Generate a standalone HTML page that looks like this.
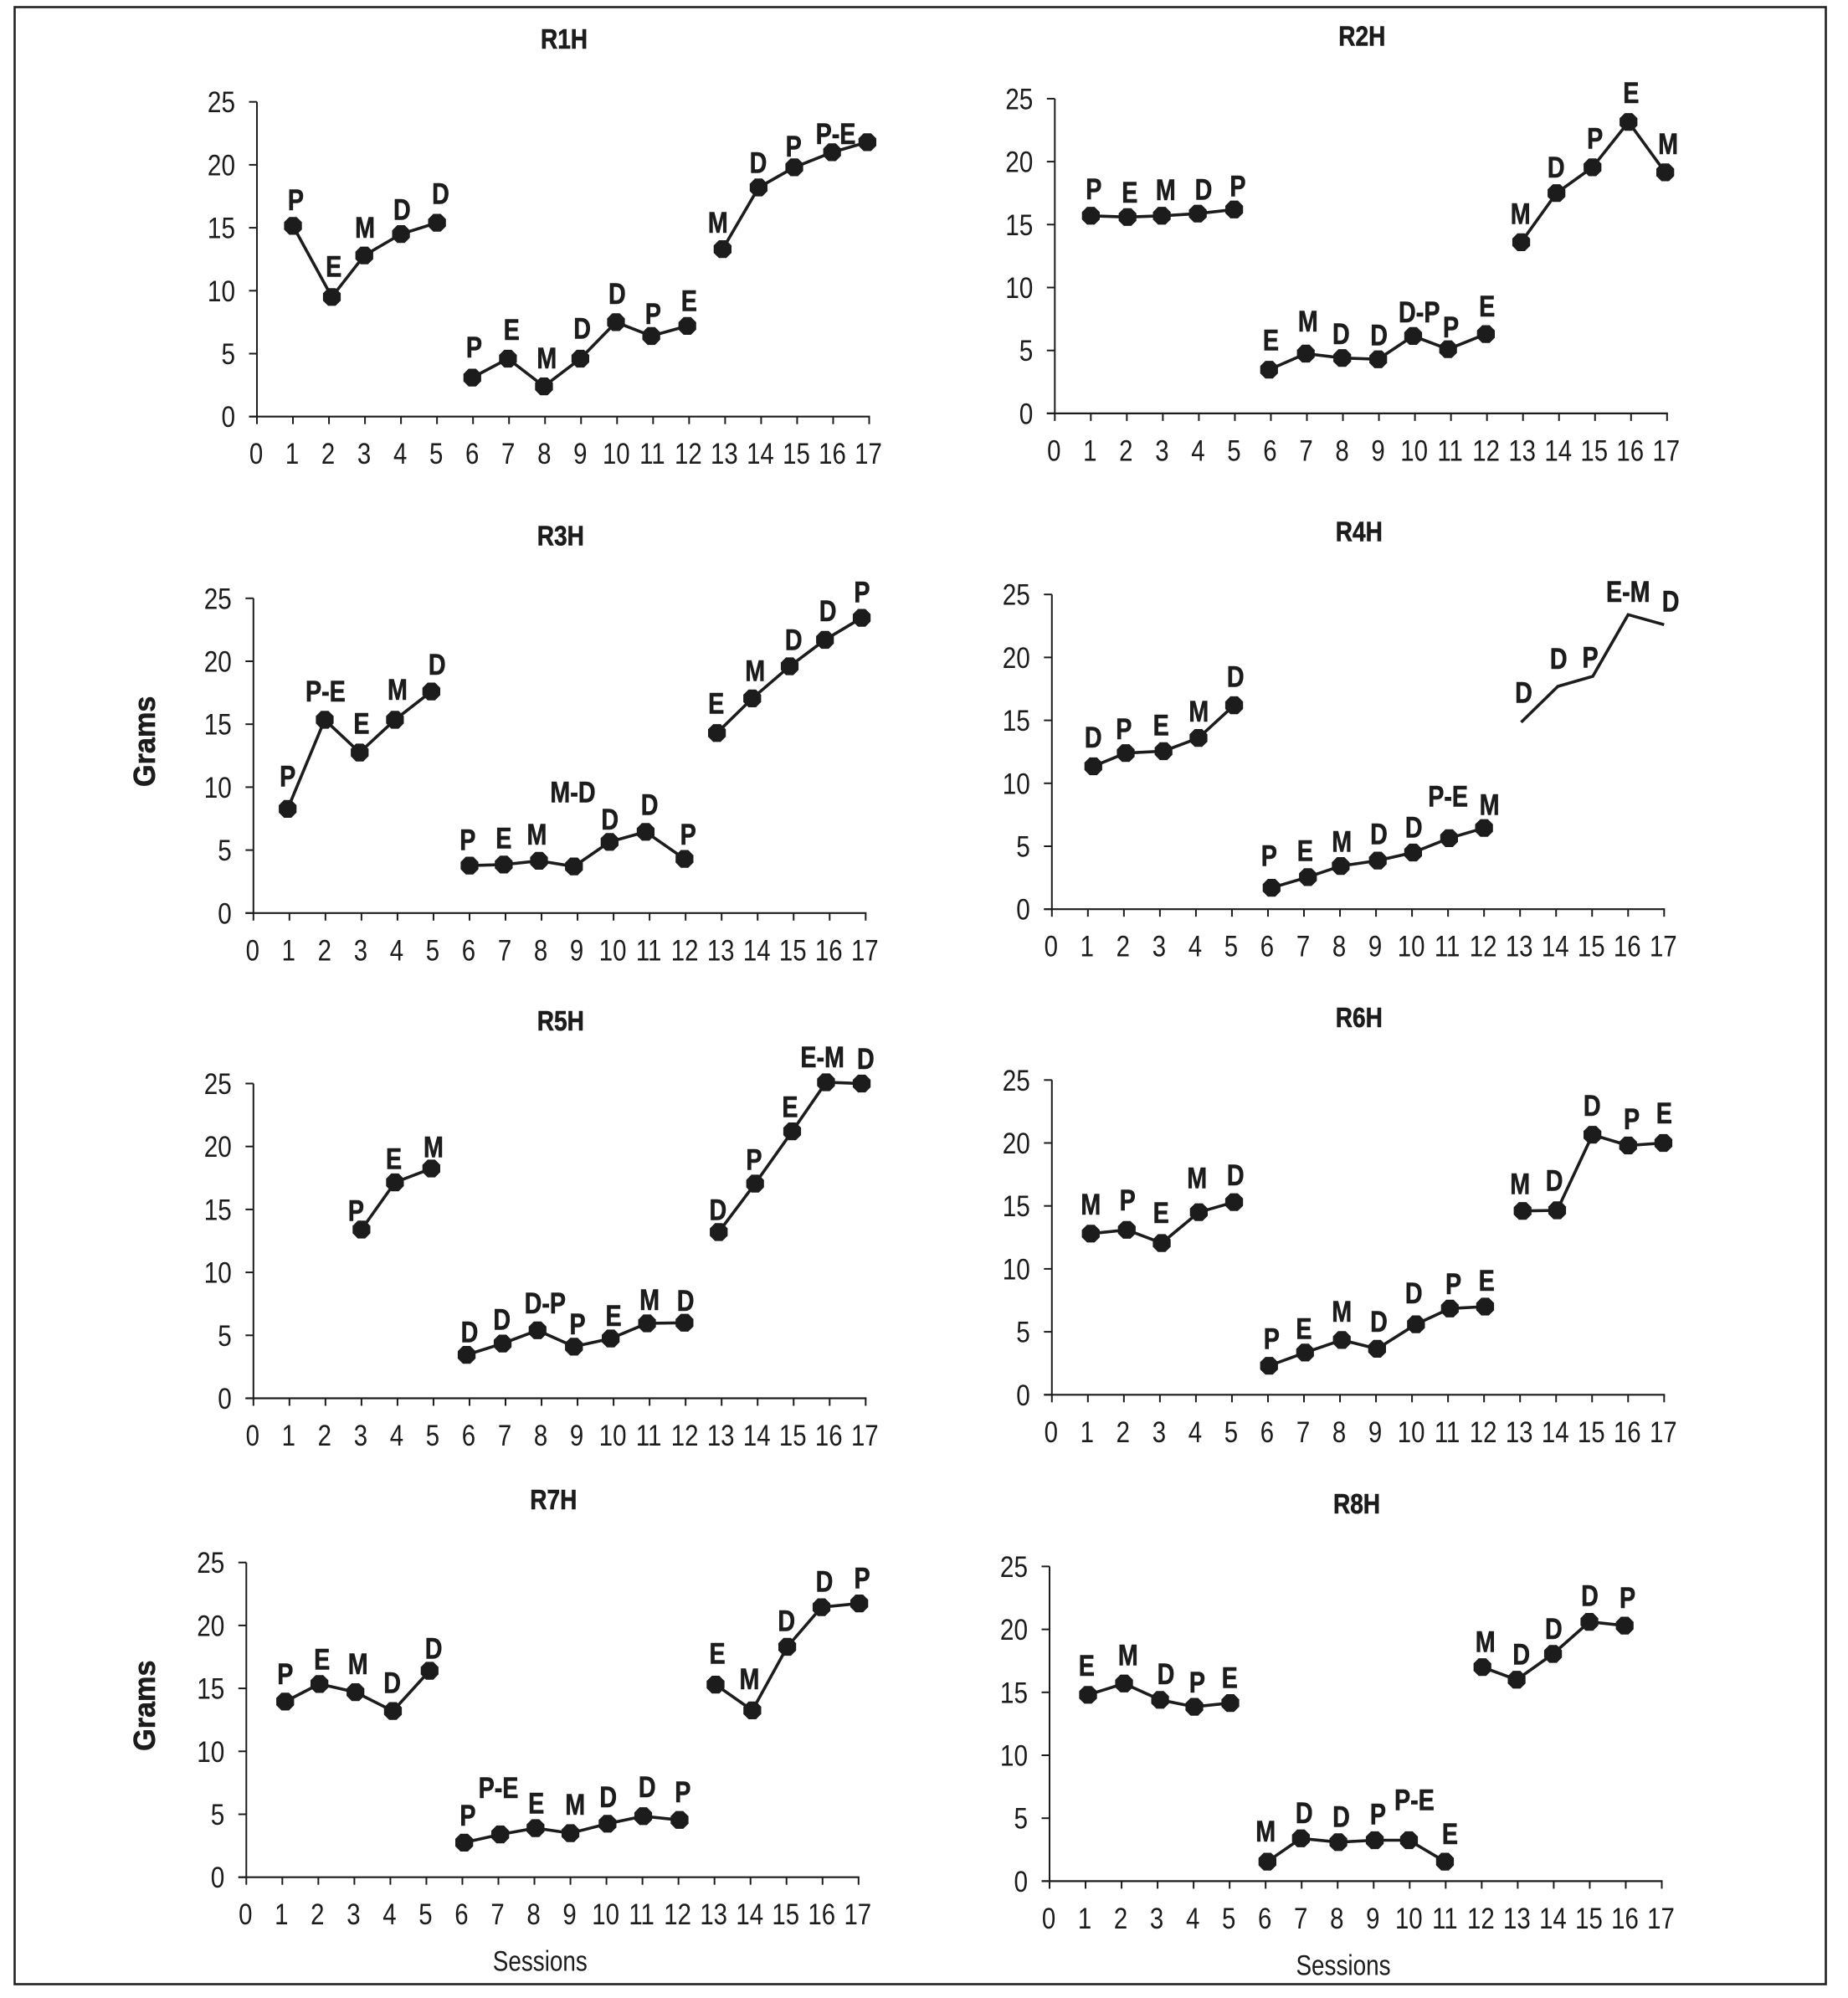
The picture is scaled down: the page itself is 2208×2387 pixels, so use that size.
<!DOCTYPE html>
<html lang="en">
<head>
<meta charset="utf-8">
<title>Grams per session, R1H to R8H</title>
<style>
html,body{margin:0;padding:0;background:#fff;}
svg{display:block;}
text{font-family:"Liberation Sans",Arial,sans-serif;fill:#1c1c1c;}
text.heavy{stroke:#1c1c1c;stroke-width:0.6px;}
</style>
</head>
<body>
<svg id="chart" xmlns="http://www.w3.org/2000/svg" width="2208" height="2387" viewBox="0 0 2208 2387">
<rect x="17.5" y="8.5" width="2164" height="2362" fill="#fff" stroke="#222" stroke-width="2.6"/>
</svg>
<script>
const sessionTicks = [0,1,2,3,4,5,6,7,8,9,10,11,12,13,14,15,16,17];
const gramTicks = [0,5,10,15,20,25];

const r1hGrams = [15.15,9.5,12.8,14.5,15.4,3.1,4.6,2.4,4.6,7.5,6.4,7.2,13.3,18.2,19.8,21.0,21.8];
const r1hLabels = ['P','E','M','D','D','P','E','M','D','D','P','E','M','D','P','P-E',''];
const r1hDrift = [0,0.08,-0.02,0,0,-0.02,-0.03,-0.03,-0.02,-0.03,-0.05,-0.05,-0.07,-0.07,-0.08,-0.03,-0.05];
const r1hLift = [2.05,2.4,2.2,1.95,2.3,2.4,2.3,2.25,2.4,2.25,1.75,2.0,2.1,1.95,1.65,1.45,0];
const r1hShift = [0.08,0.13,0,0.03,0.1,0.03,0.07,0.05,0.03,0,0,0,-0.2,-0.08,-0.1,0.07,0];
const r1hPhases = [1,6,13];

const r2hGrams = [15.7,15.6,15.7,15.87,16.2,3.47,4.75,4.4,4.3,6.15,5.1,6.3,13.6,17.5,19.55,23.15,19.15];
const r2hLabels = ['P','E','M','D','P','E','M','D','D','D-P','P','E','M','D','P','E','M'];
const r2hDrift = [0,0.02,-0.03,-0.03,-0.02,-0.05,-0.03,-0.02,-0.02,-0.05,-0.08,-0.03,-0.05,-0.07,-0.07,-0.07,-0.05];
const r2hLift = [2.1,1.95,2.05,1.9,1.85,2.35,2.55,1.9,1.9,1.9,1.75,2.2,2.25,2.05,2.3,2.3,2.25];
const r2hShift = [0.08,0.08,0.08,0.13,0.08,0,0.03,-0.05,0,0.12,0,0,-0.07,-0.08,0,0,0.03];
const r2hPhases = [1,6,13];

const r3hGrams = [8.27,15.35,12.75,15.35,17.6,3.77,3.85,4.15,3.7,5.65,6.45,4.3,14.3,17.05,19.6,21.7,23.45];
const r3hLabels = ['P','P-E','E','M','D','P','E','M','M-D','D','D','P','E','M','D','D','P'];
const r3hDrift = [-0.05,-0.02,-0.05,-0.07,-0.06,0,-0.05,-0.07,-0.1,-0.11,-0.11,-0.03,-0.13,-0.15,-0.11,-0.13,-0.11];
const r3hLift = [2.6,2.25,2.3,2.4,2.15,2.05,2.1,2.1,5.9,1.8,2.15,1.95,2.35,2.2,2.1,2.3,2.05];
const r3hShift = [-0.05,0,0,0,0.1,-0.05,-0.05,-0.13,-0.13,-0.1,0,0.07,-0.15,-0.07,0,-0.05,-0.1];
const r3hPhases = [1,6,13];

const r4hGrams = [11.35,12.4,12.55,13.6,16.2,1.7,2.55,3.43,3.86,4.5,5.64,6.45,14.85,17.7,18.5,23.4,22.6];
const r4hLabels = ['D','P','E','M','D','P','E','M','D','D','P-E','M','D','D','P','E-M','D'];
const r4hDrift = [0.15,0.05,0.1,0.07,0.06,0.1,0.11,0.02,0.05,0.03,0.03,0,0.03,0.05,0.02,0,0];
const r4hLift = [2.3,1.9,2.05,2.1,2.25,2.55,2.1,1.95,2.1,2.0,3.3,1.85,2.35,2.2,1.5,1.8,1.85];
const r4hShift = [0.15,0,0.03,0.08,0.1,0.03,0.03,0.05,0.08,0.05,0,0.15,0.1,0.07,-0.05,0,0.18];
const r4hPhases = [1,6,13];
const r4hNoMarkersFrom = 13;

const r5hGrams = [null,null,13.4,17.15,18.25,3.45,4.35,5.4,4.1,4.75,5.95,6.0,13.2,17.05,21.2,25.1,25.0];
const r5hLabels = ['','','P','E','M','D','D','D-P','P','E','M','D','D','P','E','E-M','D'];
const r5hDrift = [0,0,0,-0.07,-0.06,-0.08,-0.08,-0.11,-0.1,-0.08,-0.07,-0.03,-0.08,-0.07,-0.04,-0.1,-0.11];
const r5hLift = [0,0,1.5,1.85,1.7,1.8,1.9,2.15,1.8,1.8,1.85,1.75,1.75,1.9,1.95,2.0,1.95];
const r5hShift = [0,0,-0.15,-0.1,0,0,-0.1,0.1,0,0,0,0,-0.1,-0.1,-0.1,-0.2,0];
const r5hPhases = [3,6,13];

const r6hGrams = [12.8,13.1,12.05,14.5,15.3,2.3,3.35,4.35,3.65,5.6,6.85,7.0,14.6,14.65,20.65,19.8,20.0];
const r6hLabels = ['M','P','E','M','D','P','E','M','D','D','P','E','M','D','D','P','E'];
const r6hDrift = [0.08,0.08,0.05,0.08,0.06,0.03,0.03,0.05,0.03,0.11,0.05,0.03,0.07,0.03,0.01,0,-0.02];
const r6hLift = [2.3,2.35,2.4,2.7,2.15,2.15,1.9,2.25,2.15,2.45,1.95,2.05,2.15,2.35,2.3,2.1,2.35];
const r6hShift = [0.08,0.1,0.03,0.03,0.1,0.1,0,0.05,0.08,0.05,0.15,0.07,0,-0.05,0,0.1,0];
const r6hPhases = [1,6,13];

const r7hGrams = [13.95,15.35,14.7,13.2,16.4,2.75,3.4,3.9,3.5,4.25,4.85,4.55,15.3,13.25,18.3,21.45,21.75];
const r7hLabels = ['P','E','M','D','D','P','P-E','E','M','D','D','P','E','M','D','D','P'];
const r7hDrift = [0.08,0.03,0.03,0.07,0.09,0.05,0.05,0.03,0,0.03,0.02,0.03,0.03,0.05,0.02,-0.03,0.02];
const r7hLift = [2.2,1.95,2.25,2.25,1.75,2.15,3.7,1.95,2.25,2.1,2.3,2.2,2.45,2.5,2.05,2.05,2.0];
const r7hShift = [0.08,0.1,0.1,0.05,0.2,0.15,0,0.05,0.13,0.05,0.13,0.12,0.08,-0.03,0,0.05,0.1];
const r7hPhases = [1,6,13];

const r8hGrams = [14.8,15.7,14.4,13.85,14.15,1.55,3.4,3.1,3.25,3.25,1.55,17.0,16.0,18.05,20.6,20.3,null];
const r8hLabels = ['E','M','D','P','E','M','D','D','P','P-E','E','M','D','D','D','P',''];
const r8hDrift = [0.07,0.07,0.07,0.02,0.02,0.05,-0.02,0.02,0.03,-0.02,-0.02,0.02,-0.03,-0.02,-0.01,-0.03,0];
const r8hLift = [2.3,2.25,2.05,1.95,2.0,2.4,2.0,2.0,2.05,3.2,2.2,2.0,2.0,2.0,2.05,2.2,0];
const r8hShift = [0.03,0.18,0.23,0.1,0,0,0.07,0.1,0.12,0.13,0.12,0.1,0.1,0,0,0.05,0];
const r8hPhases = [1,6,12];

const panels = [
  {title:'R1H',grams:r1hGrams,labels:r1hLabels,drift:r1hDrift,lift:r1hLift,shift:r1hShift,phases:r1hPhases,left:307,top:121.7},
  {title:'R2H',grams:r2hGrams,labels:r2hLabels,drift:r2hDrift,lift:r2hLift,shift:r2hShift,phases:r2hPhases,left:1260.3,top:117.9},
  {title:'R3H',grams:r3hGrams,labels:r3hLabels,drift:r3hDrift,lift:r3hLift,shift:r3hShift,phases:r3hPhases,left:302.8,top:714.8,yTitle:true},
  {title:'R4H',grams:r4hGrams,labels:r4hLabels,drift:r4hDrift,lift:r4hLift,shift:r4hShift,phases:r4hPhases,left:1256.8,top:710.2,plainFrom:r4hNoMarkersFrom},
  {title:'R5H',grams:r5hGrams,labels:r5hLabels,drift:r5hDrift,lift:r5hLift,shift:r5hShift,phases:r5hPhases,left:302.8,top:1294.5},
  {title:'R6H',grams:r6hGrams,labels:r6hLabels,drift:r6hDrift,lift:r6hLift,shift:r6hShift,phases:r6hPhases,left:1256.8,top:1290.3},
  {title:'R7H',grams:r7hGrams,labels:r7hLabels,drift:r7hDrift,lift:r7hLift,shift:r7hShift,phases:r7hPhases,left:294.3,top:1866.7,yTitle:true,xTitle:true},
  {title:'R8H',grams:r8hGrams,labels:r8hLabels,drift:r8hDrift,lift:r8hLift,shift:r8hShift,phases:r8hPhases,left:1254,top:1871.4,xTitle:true}
];

const PLOT_W = 731.5, PLOT_H = 376, INK = '#1c1c1c';
const NS = 'http://www.w3.org/2000/svg';
const root = document.getElementById('chart');

function make(tag, parent, attrs){
  const el = document.createElementNS(NS, tag);
  for (const k in attrs) el.setAttribute(k, attrs[k]);
  parent.appendChild(el);
  return el;
}
function makeText(parent, str, x, y, size, weight, sx, anchor){
  const el = make('text', parent, {
    transform:'translate('+x+' '+y+') scale('+sx+' 1)',
    'text-anchor':anchor || 'middle','font-size':size,'font-weight':weight
  });
  if (weight === 'bold') el.setAttribute('class', 'heavy');
  el.textContent = str;
  return el;
}
function octagon(cx, cy, r){
  const pts = [];
  for (let i = 0; i < 8; i++){
    const a = Math.PI / 8 + i * Math.PI / 4;
    pts.push((cx + r * Math.cos(a)).toFixed(1) + ',' + (cy + r * Math.sin(a)).toFixed(1));
  }
  return pts.join(' ');
}

panels.forEach(function(p){
  const id = p.title.toLowerCase();
  const xAt = function(s){ return p.left + s * PLOT_W / 17; };
  const yAt = function(v){ return p.top + PLOT_H - v * PLOT_H / 25; };
  const bottom = yAt(0);

  const g = make('g', root, {});
  
  

  const title = makeText(g, p.title, p.left + 367, p.top - 63.5, 33, 'bold', 0.85);
  
  

  const yAxis = make('line', g, {x1:p.left,x2:p.left,y1:p.top,y2:bottom,stroke:INK,'stroke-width':2});
  
  

  const xAxis = make('line', g, {x1:p.left - 9.5,x2:xAt(17) + 1,y1:bottom,y2:bottom,stroke:INK,'stroke-width':2.2});
  
  

  gramTicks.forEach(function(t){
    const tick = make('line', g, {x1:p.left - 9.5,x2:p.left,y1:yAt(t),y2:yAt(t),stroke:INK,'stroke-width':2});
    
    
    const lab = makeText(g, String(t), p.left - 26, yAt(t) + 12.5, 35, 'normal', 0.85, 'end');
    
    
  });

  sessionTicks.forEach(function(t){
    const tick = make('line', g, {x1:xAt(t),x2:xAt(t),y1:bottom,y2:bottom + 9,stroke:INK,'stroke-width':2});
    
    
    const lab = makeText(g, String(t), xAt(t) - 1, bottom + 56.5, 35, 'normal', 0.84);
    
    
  });

  p.phases.forEach(function(start, i){
    const end = i + 1 < p.phases.length ? p.phases[i + 1] - 1 : 17;
    const coords = [];
    for (let s = start; s <= end; s++){
      const v = p.grams[s - 1];
      if (v !== null) coords.push(xAt(s + p.drift[s - 1]).toFixed(1) + ',' + yAt(v).toFixed(1));
    }
    const line = make('polyline', g, {points:coords.join(' '),fill:'none',stroke:INK,'stroke-width':3.6,'stroke-linejoin':'miter'});
    
    
  });

  p.grams.forEach(function(v, i){
    if (v === null) return;
    const s = i + 1;
    if (!p.plainFrom || s < p.plainFrom){
      const dot = make('polygon', g, {points:octagon(xAt(s + p.drift[i]), yAt(v), 11.5),fill:INK});
      
      
    }
    if (p.labels[i]){
      const lx = xAt(s + p.shift[i]);
      const ly = yAt(v + p.lift[i]) + 12;
      const lab = makeText(g, p.labels[i], lx, ly, 35, 'bold', 0.82);
      
      
    }
  });

  if (p.yTitle){
    const yt = make('text', g, {
      transform:'translate(185 ' + (p.top + 171) + ') rotate(-90) scale(0.95 1)',
      'text-anchor':'middle','font-size':36,'font-weight':'bold','class':'heavy'
    });
    yt.textContent = 'Grams';
    
    
  }
  if (p.xTitle){
    const xt = makeText(g, 'Sessions', p.left + 351, bottom + 112, 34, 'normal', 0.82);
    
    
  }
});
</script>
</body>
</html>
